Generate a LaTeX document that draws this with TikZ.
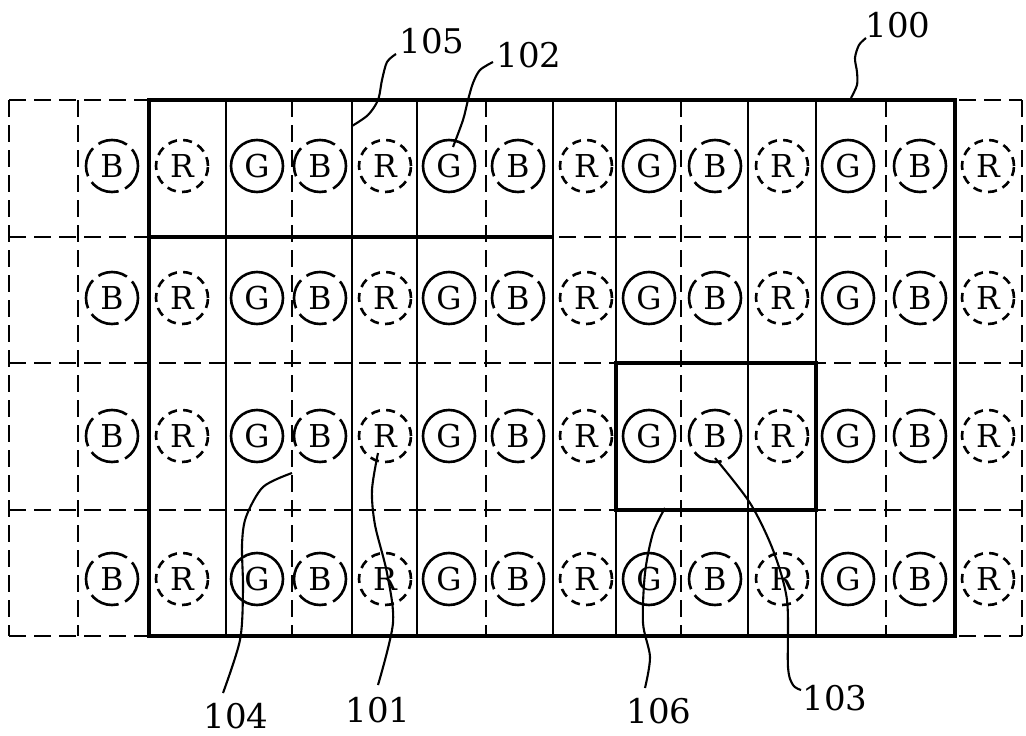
\documentclass[tikz,border=0pt]{standalone}
\usepackage{fontspec}
\newfontfamily\figfont{DejaVu Serif}
\begin{document}
\begin{tikzpicture}[x=1pt,y=-1pt,
  grid/.style={line width=1.9pt, dash pattern=on 17pt off 8pt},
  sol/.style={line width=2.6pt},
  thk/.style={line width=4.2pt},
  boxln/.style={line width=3.2pt},
  cir/.style={circle, inner sep=0pt, minimum size=52pt, line width=2.6pt, font=\figfont\fontsize{31.5}{31.5}\selectfont},
  gc/.style={cir, draw},
  rc/.style={cir, draw, dash pattern=on 9pt off 6.3pt},
  bc/.style={cir, draw, dash pattern=on 30pt off 7pt, dash phase=12pt},
  lbl/.style={font=\figfont\fontsize{34}{34}\selectfont, inner sep=0pt},
  leader/.style={line width=2.1pt}]
\useasboundingbox (0,0) rectangle (1026,736);
% dashed grid
\foreach \y in {100,237,363,510,636}
  \draw[grid] (9,\y) -- (1022,\y);
\foreach \x in {9,78,292,486,681,886,1022}
  \draw[grid] (\x,100) -- (\x,636);
% solid columns
\foreach \x in {226,352,417,553,616,748,816}
  \draw[sol] (\x,100) -- (\x,636);
% main box 100
\draw[thk] (149,100) rectangle (955,636);
% box 105
\draw[thk] (149,237) -- (553,237);
% box 106
\draw[boxln] (616,363) rectangle (816,510);
% circles
\foreach \y/\r in {166/1,298/2,436/3,579/4}{
  \foreach \x/\s/\t/\c in {112/bc/B/1,182/rc/R/2,257/gc/G/3,320/bc/B/4,385/rc/R/5,449/gc/G/6,518/bc/B/7,586/rc/R/8,649/gc/G/9,715/bc/B/10,782/rc/R/11,848/gc/G/12,920/bc/B/13,988/rc/R/14}
    \node[\s] (c-\r-\c) at (\x,\y) {\t};
}
% labels
\node[lbl] (l100) at (898,25) {100};
\node[lbl] (l105) at (432,41) {105};
\node[lbl] (l102) at (529,55) {102};
\node[lbl] (l104) at (236,716) {104};
\node[lbl] (l101) at (378,710) {101};
\node[lbl] (l106) at (659,711) {106};
\node[lbl] (l103) at (835,698) {103};
% leaders
\draw[leader] plot[smooth] coordinates {(866,38) (859,45) (855,58) (857,72) (857,85) (851,98)};
\draw[leader] plot[smooth] coordinates {(396,54) (387,62) (382,80) (378,100) (368,115) (352,126)};
\draw[leader] plot[smooth] coordinates {(493,62) (480,70) (473,83) (468,100) (463,120) (453,147)};
\draw[leader] plot[smooth] coordinates {(292,473) (263,487) (246,517) (242,545) (243,590) (240,640) (223,693)};
\draw[leader] plot[smooth] coordinates {(378,453) (372,490) (375,525) (387,573) (393,623) (378,685)};
\draw[leader] plot[smooth] coordinates {(665,508) (653,533) (645,573) (643,623) (650,657) (645,688)};
\draw[leader] plot[smooth] coordinates {(715,458) (750,503) (773,550) (787,600) (788,667) (793,685) (801,690)};
\end{tikzpicture}
\end{document}
